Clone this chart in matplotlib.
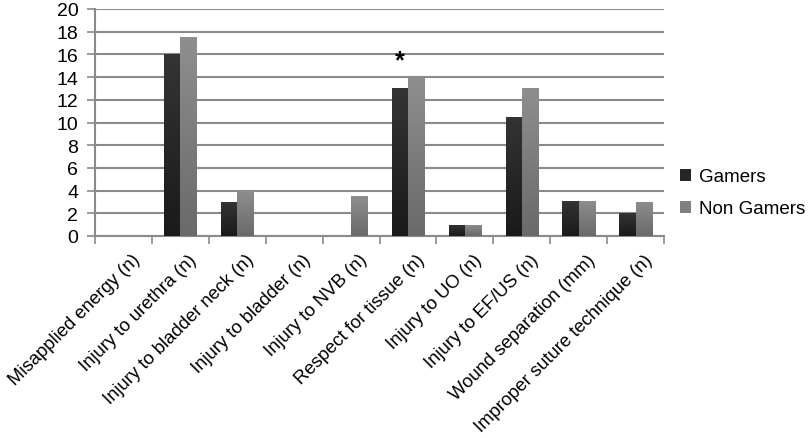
import matplotlib
matplotlib.use("Agg")
import matplotlib.pyplot as plt
import matplotlib.transforms as mtransforms
from matplotlib.colors import LinearSegmentedColormap
from matplotlib.patches import Patch
import numpy as np

categories = ["Misapplied energy (n)", "Injury to urethra (n)", "Injury to bladder neck (n)",
              "Injury to bladder (n)", "Injury to NVB (n)", "Respect for tissue (n)",
              "Injury to UO (n)", "Injury to EF/US (n)", "Wound separation (mm)",
              "Improper suture technique (n)"]
gamers = [0, 16, 3, 0, 0, 13, 1, 10.5, 3.1, 2]
non_gamers = [0, 17.5, 4, 0, 3.5, 14, 1, 13, 3.1, 3]
series_names = ["Gamers", "Non Gamers"]
y_ticks = [0, 2, 4, 6, 8, 10, 12, 14, 16, 18, 20]
star_category = 5
star_value = 15.5

plt.rcParams['font.family'] = ['Liberation Sans', 'DejaVu Sans']

fig = plt.figure(figsize=(8.1, 4.39), dpi=100)
ax = fig.add_axes([95/810, 1-237/439, (664-95)/810, (237-10)/439])

x = np.arange(len(categories))
w = 0.285
grid_c = "#8a8a8a"

def grad_bars(xs, vals, top_c, bot_c, label):
    bars = ax.bar(xs, vals, w, color=top_c, label=label, zorder=3, linewidth=0)
    grad = np.linspace(0, 1, 64).reshape(-1, 1)
    cmap = LinearSegmentedColormap.from_list("g", [bot_c, top_c])
    for b in bars:
        if b.get_height() <= 0:
            continue
        x0, y0 = b.get_x(), b.get_y()
        im = ax.imshow(grad, cmap=cmap, aspect='auto', origin='lower',
                       extent=[x0, x0 + b.get_width(), y0, y0 + b.get_height()],
                       zorder=4, interpolation='bilinear')
        im.set_clip_path(b)
    return bars

grad_bars(x - w/2, gamers, "#343434", "#1a1a1a", series_names[0])
grad_bars(x + w/2, non_gamers, "#8e8e8e", "#6a6a6a", series_names[1])
ax.set_xlim(-0.5, len(categories)-0.5)
ax.set_ylim(0, 20)

ax.text(star_category - w/2, star_value, "*", ha='center', va='center', fontsize=18, fontweight='bold', zorder=5)

ax.set_yticks(y_ticks)
ax.set_yticklabels([str(t) for t in y_ticks], fontsize=14)
ax.yaxis.grid(True, color=grid_c, linewidth=1.5, zorder=0)
ax.set_axisbelow(True)

ax.set_xticks(np.arange(len(categories)+1) - 0.5)
ax.set_xticklabels([])
ax.set_xticks(x, minor=True)
ax.set_xticklabels(categories, minor=True, rotation=45, ha='right', va='center',
                   rotation_mode='anchor', fontsize=13.3)
ax.tick_params(axis='x', which='minor', length=0, pad=12)
ax.tick_params(axis='x', which='major', length=6, width=1.2, color=grid_c, direction='out')
ax.tick_params(axis='y', length=6, width=1.2, color=grid_c, direction='out', pad=6)

offset = mtransforms.ScaledTranslation(14/100, -4/100, fig.dpi_scale_trans)
for lab in ax.xaxis.get_minorticklabels():
    lab.set_transform(lab.get_transform() + offset)

for s in ['top', 'right']:
    ax.spines[s].set_visible(False)
for s in ['left', 'bottom']:
    ax.spines[s].set_color(grid_c)
    ax.spines[s].set_linewidth(1.5)

handles = [Patch(facecolor="#262626"), Patch(facecolor="#808080")]
fig.legend(handles, series_names, loc='center left', bbox_to_anchor=(680/810, 1-194/439),
           frameon=False, fontsize=13.5, handlelength=0.6, handleheight=0.6,
           handletextpad=0.4, labelspacing=0.8, borderaxespad=0, borderpad=0.0)

fig.savefig("out.png", dpi=100)
